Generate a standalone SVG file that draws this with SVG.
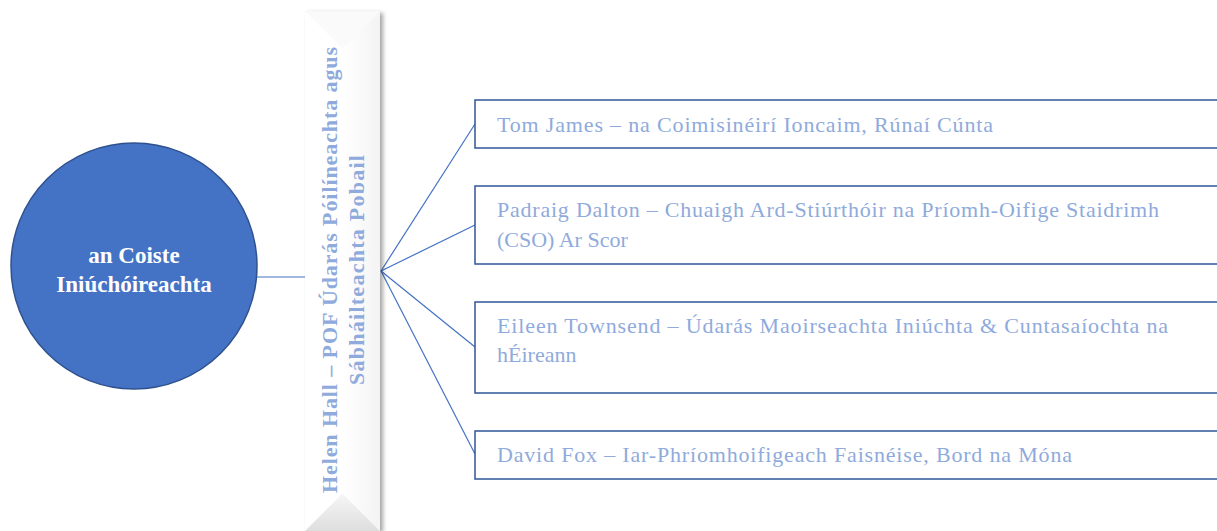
<svg xmlns="http://www.w3.org/2000/svg" width="1217" height="531" viewBox="0 0 1217 531">
<defs>
<filter id="sh" x="-20%" y="-5%" width="140%" height="110%">
<feDropShadow dx="3" dy="2" stdDeviation="2" flood-color="#000" flood-opacity="0.35"/>
</filter>
<linearGradient id="rg" x1="0" y1="0" x2="1" y2="0">
<stop offset="0" stop-color="#ffffff"/>
<stop offset="1" stop-color="#e8e8e8"/>
</linearGradient>
<linearGradient id="bg" x1="0" y1="0" x2="0" y2="1">
<stop offset="0" stop-color="#f6f6f6"/>
<stop offset="1" stop-color="#dedede"/>
</linearGradient>
</defs>
<style>
.box{fill:#ffffff;stroke:#2f5597;stroke-width:1.5}
.t{font-family:"Liberation Serif","Times New Roman",serif;font-size:22px;fill:#8faadc}
.c{font-family:"Liberation Serif","Times New Roman",serif;font-size:23px;font-weight:bold;fill:#ffffff;text-anchor:middle}
.v{font-family:"Liberation Serif","Times New Roman",serif;font-size:22px;font-weight:bold;fill:#8faadc;text-anchor:middle}
.ln{stroke:#4472c4;stroke-width:1.2;fill:none}
</style>
<rect width="1217" height="531" fill="#ffffff"/>
<g id="connectors">
<line class="ln" x1="256" y1="277" x2="305" y2="277"/>
<line class="ln" x1="381" y1="271" x2="475" y2="124"/>
<line class="ln" x1="381" y1="271" x2="475" y2="225"/>
<line class="ln" x1="381" y1="271" x2="475" y2="347"/>
<line class="ln" x1="381" y1="271" x2="475" y2="454"/>
</g>
<g id="coiste">
<circle cx="134" cy="266" r="123" fill="#4472c4" stroke="#2f528f" stroke-width="1.5"/>
<text class="c" x="134" y="263">an Coiste</text>
<text class="c" x="134" y="292">Iniúchóireachta</text>
</g>
<g id="helen">
<g filter="url(#sh)">
<rect x="305" y="11" width="75" height="520" fill="#ffffff"/>
</g>
<polygon points="305,11 380,11 342.5,48.5" fill="#fafafa"/>
<polygon points="380,11 380,531 342.5,493.5 342.5,48.5" fill="url(#rg)" opacity="0.5"/>
<polygon points="305,531 380,531 342.5,493.5" fill="url(#bg)"/>
<text class="v" transform="translate(337,270) rotate(-90)" x="0" y="0" textLength="446" lengthAdjust="spacing">Helen Hall – POF Údarás Póilíneachta agus</text>
<text class="v" transform="translate(364,270) rotate(-90)" x="0" y="0" textLength="230" lengthAdjust="spacing">Sábháilteachta Pobail</text>
</g>
<g id="tom">
<rect class="box" x="475" y="100" width="760" height="48"/>
<text class="t" x="497" y="132" textLength="496" lengthAdjust="spacing">Tom James – na Coimisinéirí  Ioncaim, Rúnaí Cúnta</text>
</g>
<g id="padraig">
<rect class="box" x="475" y="186" width="760" height="78"/>
<text class="t" x="497" y="217" textLength="662" lengthAdjust="spacing">Padraig Dalton – Chuaigh Ard-Stiúrthóir na Príomh-Oifige Staidrimh</text>
<text class="t" x="497" y="247">(CSO) Ar Scor</text>
</g>
<g id="eileen">
<rect class="box" x="475" y="302" width="760" height="91"/>
<text class="t" x="497" y="333" textLength="671" lengthAdjust="spacing">Eileen  Townsend – Údarás Maoirseachta Iniúchta &amp; Cuntasaíochta na</text>
<text class="t" x="497" y="362">hÉireann</text>
</g>
<g id="david">
<rect class="box" x="475" y="431" width="760" height="48"/>
<text class="t" x="497" y="462" textLength="575" lengthAdjust="spacing">David Fox – Iar-Phríomhoifigeach Faisnéise, Bord na Móna</text>
</g>
</svg>
